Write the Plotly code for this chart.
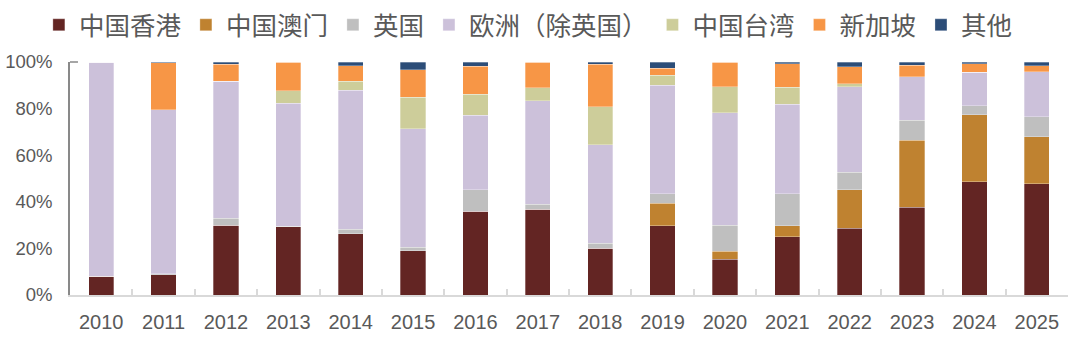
import plotly.graph_objects as go

years = [str(y) for y in range(2010, 2026)]
hong_kong = [8.0, 8.8, 30.0, 29.3, 26.3, 19.1, 35.9, 36.9, 20.1, 29.7, 15.4, 24.9, 28.7, 37.6, 48.6, 47.7]
macau = [0, 0, 0, 0, 0, 0, 0, 0, 0, 9.7, 3.3, 4.8, 16.4, 28.9, 28.8, 20.3]
uk = [0, 0.3, 3.0, 0.3, 1.9, 1.3, 9.2, 2.0, 2.2, 4.1, 11.3, 13.8, 7.6, 8.4, 3.9, 8.4]
europe = [92.0, 70.4, 58.7, 52.7, 59.6, 50.9, 32.1, 44.4, 42.2, 46.6, 48.2, 38.4, 36.7, 18.8, 14.2, 19.4]
taiwan = [0, 0, 0, 5.3, 4.0, 13.5, 9.0, 5.6, 16.4, 4.3, 11.2, 7.2, 1.3, 0, 0, 0]
singapore = [0, 20.2, 7.3, 12.4, 6.6, 11.8, 11.9, 11.1, 18.1, 3.0, 10.6, 10.2, 7.3, 4.9, 3.8, 2.6]
others = [0, 0.3, 1.0, 0, 1.6, 3.4, 1.9, 0, 1.0, 2.6, 0, 0.7, 2.0, 1.4, 0.7, 1.6]

series = [
    ("中国香港", hong_kong, "#632523"),
    ("中国澳门", macau, "#BF8230"),
    ("英国", uk, "#BFBFBF"),
    ("欧洲（除英国）", europe, "#CCC1DA"),
    ("中国台湾", taiwan, "#CDCD9A"),
    ("新加坡", singapore, "#F79646"),
    ("其他", others, "#2C4D78"),
]

fig = go.Figure()
for name, vals, color in series:
    fig.add_trace(go.Bar(
        x=years, y=[v / 100 for v in vals], name=name,
        marker=dict(color=color, line=dict(color="rgba(255,255,255,0.6)", width=0.5)),
    ))

fig.update_layout(
    barmode="stack",
    bargap=0.594,
    width=1080, height=346,
    margin=dict(l=70, r=12, t=62, b=51, autoexpand=False),
    paper_bgcolor="white", plot_bgcolor="white",
    showlegend=True,
    legend=dict(
        orientation="h", traceorder="normal",
        x=0.036, xanchor="left", y=0.995, yanchor="top",
        xref="container", yref="container",
        font=dict(family="Noto Sans CJK SC", size=25.5, color="#595959"),
        itemclick=False, tracegroupgap=0,
    ),
    font=dict(family="Liberation Sans, Arial, sans-serif", color="#595959"),
)

fig.update_xaxes(
    type="category", automargin=False,
    showline=True, linecolor="#D9D9D9", linewidth=1.5,
    ticks="inside", tickson="boundaries", ticklen=6, tickcolor="#D9D9D9", tickwidth=1.5,
    tickfont=dict(size=20, color="#595959"),
    showgrid=False, zeroline=False,
    ticklabelstandoff=8,
)
fig.update_yaxes(
    range=[0, 1], tickvals=[0, 0.2, 0.4, 0.6, 0.8, 1.0], tickformat=".0%",
    automargin=False,
    showline=True, linecolor="#898989", linewidth=1.5,
    ticks="", showgrid=False, zeroline=False,
    tickfont=dict(size=18.5, color="#595959"),
    ticklabelstandoff=12,
)
fig.add_shape(type="line", xref="paper", yref="paper", x0=0, x1=0.008, y0=1, y1=1,
              line=dict(color="#898989", width=1.5))

fig.write_html("out.html")
